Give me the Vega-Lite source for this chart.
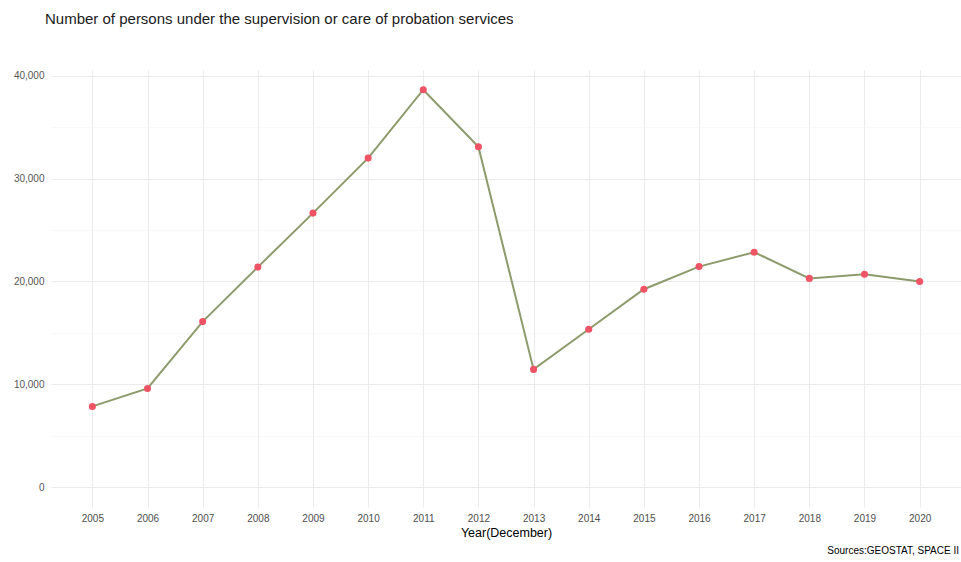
{
  "$schema": "https://vega.github.io/schema/vega-lite/v6.json",
  "autosize": {"type": "none"},
  "width": 910,
  "height": 437,
  "padding": {"left": 51, "top": 70, "right": 0, "bottom": 55},
  "background": "white",
  "title": {
    "text": "Number of persons under the supervision or care of probation services",
    "anchor": "start",
    "frame": "group",
    "dx": -6,
    "offset": 43,
    "font": "Liberation Sans",
    "fontSize": 15,
    "fontWeight": "normal",
    "color": "#1a1a1a"
  },
  "config": {
    "view": {"stroke": null},
    "axis": {"domain": false, "ticks": false, "labelFont": "Liberation Sans", "titleFont": "Liberation Sans"}
  },
  "datasets": {
    "main": [
      {"year": 2005, "persons": 7850},
      {"year": 2006, "persons": 9600},
      {"year": 2007, "persons": 16100},
      {"year": 2008, "persons": 21400},
      {"year": 2009, "persons": 26650},
      {"year": 2010, "persons": 32000},
      {"year": 2011, "persons": 38650},
      {"year": 2012, "persons": 33100},
      {"year": 2013, "persons": 11450},
      {"year": 2014, "persons": 15350},
      {"year": 2015, "persons": 19250},
      {"year": 2016, "persons": 21450},
      {"year": 2017, "persons": 22850},
      {"year": 2018, "persons": 20300},
      {"year": 2019, "persons": 20700},
      {"year": 2020, "persons": 20000}
    ],
    "caption": [{"text": "Sources:GEOSTAT, SPACE II"}]
  },
  "layer": [
    {
      "data": {"name": "main"},
      "mark": {"type": "line", "color": "#8d9a6b", "strokeWidth": 2},
      "encoding": {
        "x": {
          "field": "year", "type": "quantitative",
          "scale": {"domain": [2004.25, 2020.75], "nice": false, "zero": false},
          "axis": {
            "values": [2005, 2005.5, 2006, 2006.5, 2007, 2007.5, 2008, 2008.5, 2009, 2009.5, 2010, 2010.5, 2011, 2011.5, 2012, 2012.5, 2013, 2013.5, 2014, 2014.5, 2015, 2015.5, 2016, 2016.5, 2017, 2017.5, 2018, 2018.5, 2019, 2019.5, 2020, 2020.5],
            "labelExpr": "datum.value % 1 === 0 ? format(datum.value, 'd') : ''",
            "labelColor": "#4d4d4d",
            "labelFontSize": 10,
            "labelPadding": 6,
            "labelOverlap": false,
            "gridColor": {"condition": {"test": "datum.value % 1 === 0", "value": "#ebebeb"}, "value": "#f5f5f5"},
            "gridWidth": {"condition": {"test": "datum.value % 1 === 0", "value": 1.1}, "value": 0.6},
            "title": "Year(December)",
            "titleFontSize": 12.5,
            "titleFontWeight": "normal",
            "titleColor": "#000000",
            "titlePadding": 3
          }
        },
        "y": {
          "field": "persons", "type": "quantitative",
          "scale": {"domain": [-1932, 40569], "nice": false, "zero": false},
          "axis": {
            "values": [0, 5000, 10000, 15000, 20000, 25000, 30000, 35000, 40000],
            "labelExpr": "datum.value % 10000 === 0 ? format(datum.value, ',') : ''",
            "labelColor": "#555555",
            "labelFontSize": 10,
            "labelPadding": 7,
            "gridColor": {"condition": {"test": "datum.value % 10000 === 0", "value": "#ebebeb"}, "value": "#f5f5f5"},
            "gridWidth": {"condition": {"test": "datum.value % 10000 === 0", "value": 1.1}, "value": 0.6},
            "title": null
          }
        }
      }
    },
    {
      "data": {"name": "main"},
      "mark": {"type": "circle", "color": "#ef5466", "opacity": 1, "size": 50},
      "encoding": {
        "x": {"field": "year", "type": "quantitative"},
        "y": {"field": "persons", "type": "quantitative"}
      }
    },
    {
      "data": {"name": "caption"},
      "mark": {"type": "text", "align": "right", "baseline": "middle", "dy": 44, "dx": -2, "font": "Liberation Sans", "fontSize": 10, "color": "#000000"},
      "encoding": {
        "x": {"datum": 2020.75, "type": "quantitative"},
        "y": {"datum": -1932, "type": "quantitative"},
        "text": {"field": "text"}
      }
    }
  ]
}
